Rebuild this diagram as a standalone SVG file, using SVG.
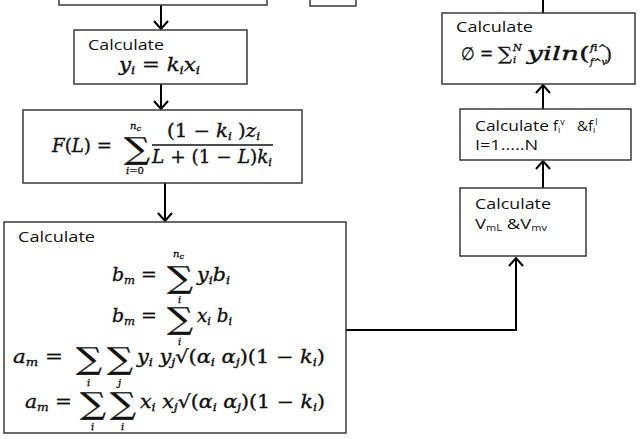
<svg xmlns="http://www.w3.org/2000/svg" width="640" height="439" viewBox="0 0 640 439">
<style>
.box{fill:#fff;stroke:#3a3a3a;stroke-width:1.5}
.con{fill:none;stroke:#000;stroke-width:2}
.lbl{font-family:"Open Sans","DejaVu Sans",sans-serif;font-size:15px;fill:#111}
.sm{font-size:9px}
.m{font-family:"DejaVu Serif",serif;font-style:italic;font-size:18px;fill:#111;stroke:#111;stroke-width:0.35}
.r{font-style:normal}
.s{font-size:11px}
.t{font-size:10px}
.sig{font-family:"DejaVu Serif",serif;font-style:normal;font-size:30px;fill:#111;stroke:#111;stroke-width:0.3}
</style>
<defs>
<marker id="ah" markerUnits="userSpaceOnUse" markerWidth="12" markerHeight="16" refX="8" refY="7" orient="auto" overflow="visible">
<path d="M0,0 L8,7 L0,14" fill="none" stroke="#000" stroke-width="2"/>
</marker>
</defs>

<g id="connectors">
<line class="con" x1="161" y1="5" x2="161" y2="29" marker-end="url(#ah)"/>
<line class="con" x1="161" y1="84" x2="161" y2="109" marker-end="url(#ah)"/>
<line class="con" x1="165" y1="183" x2="165" y2="221" marker-end="url(#ah)"/>
<line class="con" x1="345" y1="330" x2="345" y2="407"/>
<polyline class="con" points="345,330 516,330 516,258" marker-end="url(#ah)"/>
<line class="con" x1="543" y1="188" x2="543" y2="161" marker-end="url(#ah)"/>
<line class="con" x1="543" y1="109" x2="543" y2="85" marker-end="url(#ah)"/>
<line class="con" x1="543" y1="0" x2="543" y2="13"/>
</g>

<g id="n_top1"><rect class="box" x="59" y="-10" width="208" height="15"/></g>
<g id="n_top2"><rect class="box" x="310" y="-10" width="46" height="16"/></g>

<g id="n_yi">
<rect class="box" x="74" y="30" width="173" height="54"/>
<text class="lbl" x="88" y="50" textLength="76" lengthAdjust="spacingAndGlyphs">Calculate</text>
<text class="m" x="119" y="71" textLength="81" lengthAdjust="spacingAndGlyphs">y<tspan class="s" dy="3">i</tspan><tspan class="r" dy="-3"> = </tspan>k<tspan class="s" dy="3">i</tspan><tspan dy="-3">x</tspan><tspan class="s" dy="3">i</tspan></text>
</g>

<g id="n_FL">
<rect class="box" x="23" y="110" width="279" height="73"/>
<text class="m" x="52" y="152" textLength="60" lengthAdjust="spacingAndGlyphs">F<tspan class="r">(</tspan>L<tspan class="r">) =</tspan></text>
<text class="sig" x="124" y="159" textLength="26" lengthAdjust="spacingAndGlyphs">∑</text>
<text class="m t" x="130" y="129">n<tspan dy="2" font-size="8">c</tspan></text>
<text class="m t" x="126" y="174">i<tspan class="r">=0</tspan></text>
<text class="m" x="167" y="137" textLength="93" lengthAdjust="spacingAndGlyphs"><tspan class="r">(1 − </tspan>k<tspan class="s" dy="3">i</tspan><tspan class="r" dy="-3"> )</tspan>z<tspan class="s" dy="3">i</tspan></text>
<line x1="152" y1="145" x2="273" y2="145" stroke="#111" stroke-width="1.3"/>
<text class="m" x="152" y="163" textLength="120" lengthAdjust="spacingAndGlyphs">L<tspan class="r"> + (1 − </tspan>L<tspan class="r">)</tspan>k<tspan class="s" dy="3">i</tspan></text>
</g>

<g id="n_big">
<rect class="box" x="4" y="222" width="342" height="211"/>
<text class="lbl" x="18" y="242" textLength="77" lengthAdjust="spacingAndGlyphs">Calculate</text>
<text class="m" x="112" y="281" textLength="45" lengthAdjust="spacingAndGlyphs">b<tspan class="s" dy="3">m</tspan><tspan class="r" dy="-3"> =</tspan></text>
<text class="sig" x="167" y="288" textLength="26" lengthAdjust="spacingAndGlyphs">∑</text>
<text class="m t" x="173" y="257">n<tspan dy="2" font-size="8">c</tspan></text>
<text class="m t" x="178" y="303">i</text>
<text class="m" x="197" y="281" textLength="33" lengthAdjust="spacingAndGlyphs">y<tspan class="s" dy="3">i</tspan><tspan dy="-3">b</tspan><tspan class="s" dy="3">i</tspan></text>

<text class="m" x="112" y="322" textLength="45" lengthAdjust="spacingAndGlyphs">b<tspan class="s" dy="3">m</tspan><tspan class="r" dy="-3"> =</tspan></text>
<text class="sig" x="167" y="329" textLength="26" lengthAdjust="spacingAndGlyphs">∑</text>
<text class="m t" x="178" y="345">i</text>
<text class="m" x="197" y="322" textLength="35" lengthAdjust="spacingAndGlyphs">x<tspan class="s" dy="3">i</tspan><tspan dy="-3"> b</tspan><tspan class="s" dy="3">i</tspan></text>

<text class="m" x="13" y="363" textLength="50" lengthAdjust="spacingAndGlyphs">a<tspan class="s" dy="3">m</tspan><tspan class="r" dy="-3"> =</tspan></text>
<text class="sig" x="76" y="369" textLength="26" lengthAdjust="spacingAndGlyphs">∑</text>
<text class="sig" x="107" y="369" textLength="26" lengthAdjust="spacingAndGlyphs">∑</text>
<text class="m t" x="87" y="386">i</text>
<text class="m t" x="118" y="386">j</text>
<text class="m" x="137" y="363" textLength="188" lengthAdjust="spacingAndGlyphs">y<tspan class="s" dy="3">i</tspan><tspan dy="-3"> y</tspan><tspan class="s" dy="3">j</tspan><tspan class="r" dy="-3">√(</tspan>α<tspan class="s" dy="3">i</tspan><tspan dy="-3">  α</tspan><tspan class="s" dy="3">j</tspan><tspan class="r" dy="-3">)(1 − </tspan>k<tspan class="s" dy="3">i</tspan><tspan class="r" dy="-3">)</tspan></text>

<text class="m" x="25" y="408" textLength="47" lengthAdjust="spacingAndGlyphs">a<tspan class="s" dy="3">m</tspan><tspan class="r" dy="-3"> =</tspan></text>
<text class="sig" x="80" y="414" textLength="26" lengthAdjust="spacingAndGlyphs">∑</text>
<text class="sig" x="110" y="414" textLength="26" lengthAdjust="spacingAndGlyphs">∑</text>
<text class="m t" x="91" y="430">i</text>
<text class="m t" x="121" y="430">i</text>
<text class="m" x="140" y="408" textLength="185" lengthAdjust="spacingAndGlyphs">x<tspan class="s" dy="3">i</tspan><tspan dy="-3"> x</tspan><tspan class="s" dy="3">j</tspan><tspan class="r" dy="-3">√(</tspan>α<tspan class="s" dy="3">i</tspan><tspan dy="-3"> α</tspan><tspan class="s" dy="3">j</tspan><tspan class="r" dy="-3">)(1 − </tspan>k<tspan class="s" dy="3">i</tspan><tspan class="r" dy="-3">)</tspan></text>
</g>

<g id="n_phi">
<rect class="box" x="442" y="13" width="193" height="71"/>
<text class="lbl" x="456" y="32" textLength="77" lengthAdjust="spacingAndGlyphs">Calculate</text>
<text class="m r" x="461" y="60" textLength="32" lengthAdjust="spacingAndGlyphs">∅ =</text>
<text class="m r" x="498" y="60" font-size="20" textLength="14" lengthAdjust="spacingAndGlyphs">∑</text>
<text class="m t" x="513" y="51">N</text>
<text class="m t" x="513" y="63">i</text>
<text class="m" x="527" y="60" textLength="63" lengthAdjust="spacingAndGlyphs">yiln<tspan class="r">(</tspan></text>
<text class="m t" x="590" y="51" textLength="17" lengthAdjust="spacingAndGlyphs" style="font-variant-ligatures:none">fi^</text>
<text class="m t" x="590" y="65" textLength="17" lengthAdjust="spacingAndGlyphs">f^v</text>
<text class="m r" x="605" y="61">)</text>
</g>

<g id="n_fi">
<rect class="box" x="460" y="109" width="171" height="51"/>
<text class="lbl" x="475" y="131" textLength="74" lengthAdjust="spacingAndGlyphs">Calculate</text>
<text class="lbl" x="553" y="131">f<tspan class="sm" dy="2">i</tspan><tspan class="sm" dy="-8">v</tspan></text>
<text class="lbl" x="577" y="131">&amp;f<tspan class="sm" dy="2">i</tspan><tspan class="sm" dy="-8">l</tspan></text>
<text class="lbl" x="475" y="150" textLength="63" lengthAdjust="spacingAndGlyphs">I=1.....N</text>
</g>

<g id="n_vm">
<rect class="box" x="460" y="188" width="126" height="68"/>
<text class="lbl" x="475" y="209" textLength="76" lengthAdjust="spacingAndGlyphs">Calculate</text>
<text class="lbl" x="475" y="229" textLength="72" lengthAdjust="spacingAndGlyphs">V<tspan class="sm" dy="2">mL</tspan><tspan dy="-2"> &amp;V</tspan><tspan class="sm" dy="2">mv</tspan></text>
</g>
</svg>
